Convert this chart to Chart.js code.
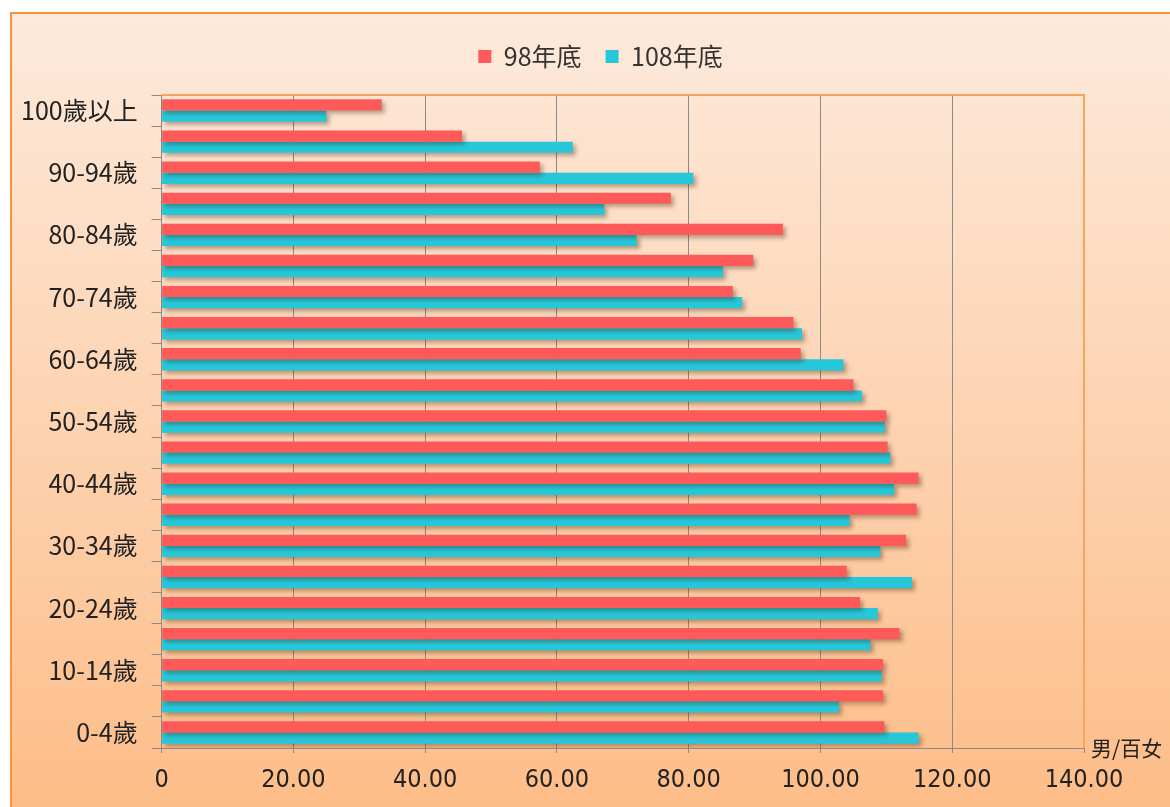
<!DOCTYPE html>
<html>
<head>
<meta charset="utf-8">
<script src="https://cdn.jsdelivr.net/npm/chart.js@4.4.0/dist/chart.umd.min.js"></script>
<style>
  html, body { margin: 0; padding: 0; background: #fff; }
  #wrap { width: 1170px; height: 807px; }
</style>
</head>
<body>
<div id="wrap"><canvas id="c" width="1170" height="807"></canvas></div>
<script>
// 年齡組（由下而上）
const ageGroups = ['0-4歲', '5-9歲', '10-14歲', '15-19歲', '20-24歲', '25-29歲', '30-34歲',
    '35-39歲', '40-44歲', '45-49歲', '50-54歲', '55-59歲', '60-64歲', '65-69歲',
    '70-74歲', '75-79歲', '80-84歲', '85-89歲', '90-94歲', '95-99歲', '100歲以上'];

// 性比例 男/百女
const ratio98 = [109.7, 109.5, 109.5, 112.0, 106.0, 104.0, 113.0, 114.6, 114.9, 110.2,
    110.0, 105.0, 97.0, 95.9, 86.7, 89.8, 94.3, 77.3, 57.4, 45.6, 33.4];
const ratio108 = [114.9, 102.8, 109.3, 107.6, 108.7, 113.9, 109.1, 104.4, 111.2, 110.6,
    109.8, 106.3, 103.5, 97.2, 88.1, 85.2, 72.1, 67.2, 80.7, 62.4, 25.0];

const seriesNames = ['98年底', '108年底'];
const xTicks = [0, 20, 40, 60, 80, 100, 120, 140];

const cjk = '"Noto Sans CJK TC", "Noto Sans", sans-serif';

// 背景、外框、陰影
const backgroundPlugin = {
    id: 'bg',
    beforeInit(chart) {
        const legend = chart.legend;
        const origFit = legend.fit;
        legend.fit = function () {
            origFit.call(this);
            this.height = 75;
        };
    },
    afterLayout(chart) {
        // 圖例往右移
        chart.legend.left += 55;
        chart.legend.right += 55;
    },
    beforeDraw(chart) {
        const ctx = chart.ctx;
        ctx.save();
        ctx.fillStyle = '#ffffff';
        ctx.fillRect(0, 0, chart.width, chart.height);
        const g = ctx.createLinearGradient(0, 12, 0, chart.height);
        g.addColorStop(0, '#fdeadc');
        g.addColorStop(1, '#fdbd88');
        ctx.fillStyle = g;
        ctx.fillRect(11, 13, chart.width, chart.height);
        ctx.strokeStyle = '#f5923e';
        ctx.lineWidth = 2;
        ctx.beginPath();
        ctx.moveTo(11, chart.height + 5);
        ctx.lineTo(11, 13);
        ctx.lineTo(chart.width + 5, 13);
        ctx.stroke();
        ctx.restore();
    },
    beforeDatasetsDraw(chart) {
        const a = chart.chartArea;
        const ctx = chart.ctx;
        ctx.save();
        ctx.strokeStyle = '#f5a560';
        ctx.lineWidth = 2;
        ctx.beginPath();
        ctx.moveTo(a.left, a.top);
        ctx.lineTo(a.right, a.top);
        ctx.lineTo(a.right, a.bottom);
        ctx.stroke();
        ctx.restore();
        ctx.save();
        ctx.shadowColor = 'rgba(60, 30, 0, 0.35)';
        ctx.shadowBlur = 4;
        ctx.shadowOffsetX = 3;
        ctx.shadowOffsetY = 3;
    },
    afterDatasetsDraw(chart) {
        chart.ctx.restore();
    },
    afterDraw(chart) {
        const a = chart.chartArea;
        const ctx = chart.ctx;
        ctx.save();
        ctx.fillStyle = '#222';
        ctx.font = '21px ' + cjk;
        ctx.textAlign = 'left';
        ctx.textBaseline = 'bottom';
        ctx.fillText('男/百女', a.right + 7, a.bottom + 11);
        ctx.restore();
    }
};

new Chart(document.getElementById('c'), {
    type: 'bar',
    data: {
        labels: ageGroups,
        datasets: [
            { label: seriesNames[0], data: ratio98, backgroundColor: '#ff5a5a' },
            { label: seriesNames[1], data: ratio108, backgroundColor: '#27c7da' }
        ]
    },
    options: {
        indexAxis: 'y',
        responsive: false,
        animation: false,
        devicePixelRatio: 1,
        datasets: {
            bar: { categoryPercentage: 0.72, barPercentage: 1.0 }
        },
        layout: { padding: { top: 20, right: 86, bottom: 0, left: 7 } },
        plugins: {
            legend: {
                position: 'top',
                labels: {
                    boxWidth: 13,
                    boxHeight: 13,
                    padding: 24,
                    color: '#333',
                    font: { size: 25, family: cjk }
                }
            },
            tooltip: { enabled: false }
        },
        scales: {
            y: {
                reverse: true,
                grid: {
                    drawOnChartArea: false,
                    drawTicks: true,
                    tickLength: 10,
                    offset: true,
                    color: '#8a8a8a'
                },
                border: { color: '#8a8a8a', width: 1 },
                ticks: {
                    autoSkip: false,
                    padding: 14,
                    color: '#222',
                    font: { size: 25, family: cjk },
                    callback: (v, i) => (i % 2 === 0 ? ageGroups[i] : '')
                }
            },
            x: {
                min: 0,
                max: 140,
                afterBuildTicks: scale => { scale.ticks = xTicks.map(v => ({ value: v })); },
                grid: {
                    color: '#8a8a8a',
                    lineWidth: 1,
                    drawTicks: true,
                    tickLength: 5
                },
                border: { color: '#8a8a8a', width: 1 },
                ticks: {
                    padding: 12,
                    color: '#222',
                    font: { size: 25, family: '"Liberation Sans Narrow", "DejaVu Sans Condensed", sans-serif' },
                    callback: v => (v === 0 ? '0' : v.toFixed(2))
                }
            }
        }
    },
    plugins: [backgroundPlugin]
});
</script>
</body>
</html>
